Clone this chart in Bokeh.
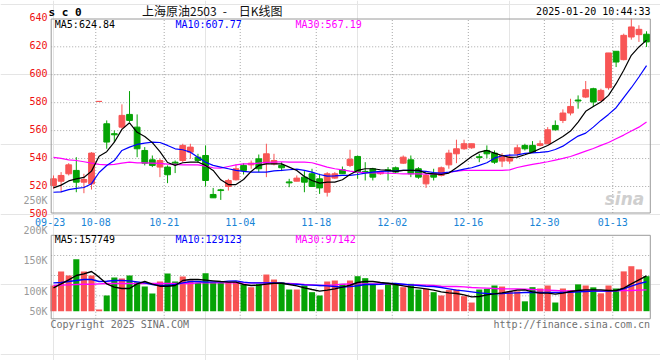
from bokeh.plotting import figure
from bokeh.models import Range1d
from bokeh.core.properties import value
from bokeh.embed import file_html
from bokeh.resources import INLINE

# ---------------- data ----------------
date_labels = ["09-23", "10-08", "10-21", "11-04", "11-18", "12-02", "12-16", "12-30", "01-13"]
date_index = [0, 6, 15, 25, 35, 45, 55, 65, 74]

opens = [520.7, 523.8, 529.1, 531.5, 523.1, 521.9, 580.9, 564.9, 557.8, 562.5,
         571.6, 562.5, 545.8, 539.1, 533.9, 533.9, 537.4, 538.6, 544.6, 541.0,
         542.2, 514.3, 517.6, 520.0, 524.8, 535.1, 535.5, 539.8, 536.7, 536.2,
         535.1, 523.3, 523.8, 526.7, 529.1, 525.5, 515.9, 526.0, 532.0, 535.1,
         541.5, 530.8, 532.7, 529.1, 532.0, 533.4, 536.7, 539.1, 532.7, 521.9,
         529.6, 527.9, 535.5, 543.4, 547.0, 547.7, 541.3, 545.8, 543.9, 538.2,
         538.2, 543.4, 549.4, 549.4, 549.4, 550.6, 563.7, 567.3, 572.6, 581.9,
         584.0, 590.0, 581.6, 590.7, 616.8, 610.8, 627.0, 628.7, 629.0]
highs = [527.9, 530.3, 536.7, 541.0, 529.1, 544.6, 580.9, 567.3, 560.1, 578.8,
         588.3, 571.6, 548.2, 542.2, 540.0, 535.1, 538.6, 550.6, 550.6, 543.4,
         549.4, 519.0, 518.3, 525.5, 535.8, 536.7, 538.6, 542.9, 550.6, 543.4,
         537.4, 525.5, 527.9, 531.0, 532.7, 529.1, 530.3, 530.3, 534.3, 546.3,
         542.2, 537.4, 533.4, 531.0, 533.9, 534.3, 542.2, 542.2, 533.9, 529.1,
         532.7, 534.3, 546.3, 553.5, 553.5, 550.6, 543.4, 549.4, 545.8, 543.9,
         543.4, 549.9, 550.6, 552.5, 553.0, 562.5, 567.3, 575.2, 582.8, 585.2,
         595.5, 590.7, 590.0, 615.6, 616.8, 629.4, 640.2, 635.4, 631.1]
lows = [518.3, 515.9, 527.9, 515.9, 515.2, 517.8, 580.9, 547.0, 551.8, 561.4,
        566.1, 541.0, 535.1, 533.9, 526.7, 522.4, 529.6, 537.4, 539.8, 537.0,
        520.0, 511.9, 510.4, 517.1, 524.3, 528.6, 532.7, 530.3, 526.7, 535.1,
        531.0, 519.5, 523.8, 515.9, 520.0, 514.7, 512.8, 525.5, 529.1, 533.9,
        525.5, 524.3, 524.3, 528.4, 524.3, 529.6, 536.2, 526.7, 525.5, 519.0,
        524.3, 527.2, 532.7, 536.7, 546.3, 547.0, 537.4, 540.3, 536.2, 533.9,
        536.2, 541.0, 545.8, 544.6, 548.7, 550.6, 560.1, 565.4, 570.9, 575.7,
        583.3, 576.9, 580.9, 589.3, 605.5, 610.3, 625.1, 623.5, 619.9]
closes = [525.5, 527.9, 535.5, 523.1, 525.0, 543.9, 580.9, 551.8, 557.0, 570.9,
          567.3, 547.0, 536.7, 535.1, 538.6, 528.4, 536.7, 549.4, 548.2, 538.6,
          524.3, 511.9, 517.1, 524.3, 532.7, 531.5, 536.7, 532.7, 543.4, 538.6,
          533.4, 522.6, 526.0, 523.1, 520.0, 519.0, 529.1, 529.1, 529.1, 539.5,
          530.3, 530.0, 526.7, 530.8, 531.2, 530.3, 541.0, 529.1, 526.7, 527.9,
          526.7, 533.4, 543.9, 547.0, 550.6, 550.6, 540.8, 543.4, 537.4, 542.2,
          541.0, 547.7, 547.0, 544.6, 550.6, 560.6, 560.6, 572.6, 577.3, 581.2,
          589.3, 580.5, 588.8, 615.6, 609.1, 628.2, 634.2, 632.5, 623.5]
# volume in thousand lots
volumes = [108.9, 168.1, 151.2, 220.3, 168.1, 151.2, 7.2, 66.5, 142.7, 138.5,
           151.2, 123.0, 104.6, 74.9, 125.8, 159.6, 125.8, 146.9, 130.0, 120.1,
           161.0, 123.0, 120.1, 123.0, 123.0, 111.7, 101.8, 115.9, 155.4, 134.2,
           123.0, 91.8, 91.8, 108.9, 80.6, 66.5, 125.8, 130.0, 115.9, 130.0,
           148.3, 139.9, 115.9, 91.8, 118.7, 115.9, 101.8, 115.9, 91.8, 94.8,
           80.6, 66.5, 89.3, 91.8, 63.6, 36.7, 91.8, 94.8, 108.9, 104.5,
           84.1, 84.1, 41.8, 101.8, 96.2, 108.9, 36.8, 96.2, 89.8, 113.7,
           108.9, 101.1, 75.7, 108.9, 96.2, 168.7, 190.6, 177.2, 148.3]

ma5 = [519.0, 521.0, 524.0, 525.5, 526.5, 531.0, 541.7, 544.9, 551.7, 560.9,
       565.6, 558.8, 555.8, 551.4, 544.9, 537.2, 535.1, 537.0, 537.5, 537.5,
       535.0, 531.5, 524.8, 521.4, 521.4, 525.0, 530.8, 535.1, 536.2, 536.2,
       536.2, 533.9, 531.5, 527.2, 524.3, 522.4, 523.1, 523.1, 524.8, 528.6,
       531.5, 532.7, 532.7, 532.0, 531.5, 530.8, 531.5, 531.5, 531.5, 529.6,
       529.1, 528.6, 529.6, 533.4, 537.4, 541.5, 544.6, 545.8, 543.9, 542.2,
       540.8, 541.0, 542.7, 544.6, 547.0, 549.4, 552.5, 555.8, 559.7, 566.1,
       573.8, 577.3, 580.5, 585.2, 593.6, 603.2, 613.9, 619.9, 624.8]
ma10 = [515.9, 516.2, 517.8, 518.6, 519.3, 522.0, 530.0, 535.0, 538.6, 545.8,
        548.2, 550.1, 551.1, 551.8, 551.5, 549.4, 547.0, 546.3, 544.6, 541.0,
        537.4, 535.1, 533.9, 532.7, 531.5, 530.8, 530.3, 530.3, 530.3, 531.2,
        531.5, 532.0, 532.4, 531.5, 530.3, 528.6, 527.4, 527.6, 527.9, 527.9,
        528.6, 529.6, 530.3, 530.8, 531.0, 531.2, 531.5, 531.5, 531.2, 530.8,
        530.0, 529.6, 530.3, 531.2, 532.4, 533.4, 535.1, 537.0, 540.3, 542.0,
        542.5, 542.7, 543.7, 544.1, 544.4, 544.9, 546.5, 548.9, 552.5, 556.1,
        558.2, 562.5, 567.3, 571.6, 576.4, 583.6, 590.7, 598.4, 606.5]
ma30 = [540.8, 540.1, 539.1, 538.6, 537.7, 536.7, 535.8, 535.5, 535.8, 536.7,
        537.4, 536.9, 536.9, 536.7, 536.5, 536.0, 535.8, 535.5, 535.5, 535.5,
        534.6, 533.4, 533.1, 534.3, 535.5, 536.2, 536.2, 536.7, 537.2, 537.4,
        537.7, 537.4, 537.4, 537.4, 537.0, 535.5, 533.9, 532.7, 531.9, 531.0,
        530.3, 530.0, 529.8, 529.8, 529.6, 529.3, 529.1, 529.1, 529.1, 528.8,
        529.1, 529.1, 530.0, 531.0, 531.5, 531.5, 531.5, 531.5, 531.5, 531.5,
        531.9, 533.6, 534.8, 535.8, 536.7, 537.7, 538.9, 540.1, 541.5, 543.4,
        545.3, 547.2, 549.4, 551.5, 554.2, 556.8, 559.7, 562.5, 566.1]
vma5 = [99.0, 115.9, 132.9, 151.3, 158.0, 168.2, 144.2, 115.9, 101.8, 96.2,
        96.2, 115.9, 125.8, 114.5, 106.0, 106.0, 108.9, 130.0, 134.3, 134.3,
        131.5, 128.7, 125.8, 123.0, 123.0, 113.1, 108.9, 110.3, 114.5, 118.7,
        118.7, 113.1, 107.5, 99.0, 91.9, 84.9, 89.1, 94.8, 101.8, 110.0,
        121.6, 125.8, 125.8, 121.6, 118.7, 113.1, 107.5, 101.8, 99.0, 94.8,
        89.1, 82.1, 77.8, 75.0, 69.4, 60.9, 62.3, 69.4, 73.6, 77.8,
        83.5, 89.1, 90.5, 82.1, 76.4, 76.4, 72.2, 76.4, 83.5, 87.7,
        90.5, 90.5, 90.5, 87.7, 87.7, 97.6, 115.9, 132.9, 150.0]
vma10 = [120.2, 121.6, 125.8, 130.1, 134.3, 134.3, 125.8, 127.2, 130.1, 130.1,
         128.7, 124.4, 120.2, 113.1, 108.9, 108.9, 113.1, 120.2, 125.8, 125.8,
         123.0, 124.4, 124.4, 127.3, 128.7, 123.0, 120.2, 120.2, 120.2, 120.2,
         118.7, 115.9, 114.5, 111.7, 110.3, 108.9, 107.5, 104.6, 101.8, 104.0,
         108.0, 113.1, 113.1, 114.5, 117.3, 117.3, 114.5, 111.7, 108.9, 106.0,
         104.6, 100.4, 94.8, 89.1, 86.3, 82.1, 77.8, 75.0, 73.6, 75.0,
         76.4, 77.8, 79.2, 80.6, 79.2, 79.2, 79.2, 79.2, 80.6, 82.1,
         83.5, 84.9, 84.9, 84.9, 86.3, 95.0, 106.0, 117.0, 125.0]
vma30 = [108.9, 110.3, 111.7, 113.1, 114.5, 114.5, 115.9, 117.3, 117.3, 117.3,
         117.3, 117.3, 117.3, 117.3, 117.3, 117.3, 117.3, 117.3, 117.3, 120.2,
         120.2, 120.2, 120.2, 120.2, 120.2, 120.2, 120.2, 120.2, 120.2, 120.2,
         118.7, 117.3, 115.9, 113.1, 111.7, 108.9, 110.3, 111.7, 114.5, 115.9,
         115.9, 115.9, 115.9, 115.9, 115.9, 114.5, 113.1, 111.7, 111.7, 110.3,
         108.9, 106.0, 104.6, 104.6, 103.2, 100.4, 99.0, 97.6, 96.2, 94.8,
         94.8, 94.1, 93.4, 92.0, 90.5, 89.1, 87.7, 86.3, 86.3, 86.3,
         86.3, 86.3, 86.3, 86.3, 86.3, 87.7, 87.7, 89.1, 90.5]

price_ticks = [640, 620, 600, 580, 560, 540, 520, 500]
price_grid = [620, 600, 580, 560, 540, 520]
vol_tick_labels = ["250K", "200K", "150K", "100K", "50K"]

# ---------------- layout (page pixel geometry) ----------------
W, H, OFF = 660, 360, 0
X0, DX = 53.0, 7.603          # page x of first candle centre, px per session
def fx(px):
    return (px - X0) / DX
def fy(py):
    return 520 + (186.0 - py) / 1.397
def fv(py):
    return (310.7 - py) / 0.236

RED, GREEN = "#f85555", "#05a305"
GRID = "#a8a8a8"
BORDER = "#9a9a9a"
MONO = value("DejaVu Sans Mono")

p = figure(width=W, height=H, output_backend="svg", toolbar_location=None,
           x_range=Range1d(fx(OFF), fx(OFF + W)),
           y_range=Range1d(fy(OFF + H), fy(OFF)),
           x_axis_location=None, y_axis_location=None,
           min_border=0, title=None)
p.extra_y_ranges = {"vol": Range1d(fv(OFF + H), fv(OFF))}
p.outline_line_color = None
p.background_fill_color = "white"

idx = list(range(len(closes)))
colors = [RED if c >= o else GREEN for o, c in zip(opens, closes)]
body_top = [max(o, c) for o, c in zip(opens, closes)]
body_bot = [min(o, c) for o, c in zip(opens, closes)]

L, R = fx(50.7), fx(649.8)
P_TOP, P_BOT = fy(18.5), fy(212.5)
V_TOP, V_BOT = fv(234.8), fv(318.3)
grid_x = [i - 0.44 for i in date_index[1:]]

# price panel grid
p.segment(x0=[L] * len(price_grid), y0=price_grid, x1=[R] * len(price_grid), y1=price_grid,
          line_color=GRID, line_dash="1 2", line_width=1)
p.segment(x0=grid_x, y0=[P_BOT] * len(grid_x), x1=grid_x, y1=[P_TOP] * len(grid_x),
          line_color=GRID, line_dash="1 2", line_width=1)
# volume panel grid
vgrid = [fv(255.0), fv(275.0), fv(295.3)]
p.segment(x0=[L] * 3, y0=vgrid, x1=[R] * 3, y1=vgrid, line_color=GRID, line_dash="1 2",
          line_width=1, y_range_name="vol")
p.segment(x0=grid_x, y0=[V_BOT] * len(grid_x), x1=grid_x, y1=[V_TOP] * len(grid_x),
          line_color=GRID, line_dash="1 2", line_width=1, y_range_name="vol")

# candles
p.segment(x0=idx, y0=lows, x1=idx, y1=highs, line_color=colors, line_width=1)
p.vbar(x=idx, width=0.76, top=body_top, bottom=body_bot, fill_color=colors, line_color=colors,
       line_width=1)
# price MAs
p.line(idx, ma30, line_color="#ff00ff", line_width=1.2)
p.line(idx, ma10, line_color="#0000ff", line_width=1.2)
p.line(idx, ma5, line_color="#000000", line_width=1.2)

# volume bars + MAs
p.vbar(x=idx, width=0.8, top=volumes, bottom=0, fill_color=colors, line_color=None,
       y_range_name="vol")
p.line(idx, vma30, line_color="#ff00ff", line_width=1.4, y_range_name="vol")
p.line(idx, vma10, line_color="#0000ff", line_width=1.4, y_range_name="vol")
p.line(idx, vma5, line_color="#000000", line_width=1.4, y_range_name="vol")

# panel borders
for top, bot in ((P_TOP, P_BOT), (fy(234.8), fy(318.3))):
    p.segment(x0=[L, L, R, L], y0=[bot, top, bot, bot], x1=[L, R, R, R], y1=[top, top, top, bot],
              line_color=BORDER, line_width=1)


def txt(px, py, s, color, size="10px", align="left", font=MONO, style="normal"):
    p.text(x=[fx(px)], y=[fy(py)], text=[s], text_color=color, text_font=font,
           text_font_size=size, text_align=align, text_baseline="middle",
           text_font_style=style)


# price tick labels (red) on the price scale
p.text(x=[fx(47)] * len(price_ticks), y=[t + 1.1 for t in price_ticks],
       text=[str(t) for t in price_ticks], text_color="#ee1111", text_font=MONO,
       text_font_size="10px", text_align="right", text_baseline="middle")
# date labels
p.text(x=[i - 0.44 for i in date_index], y=[fy(221.5)] * len(date_index), text=date_labels,
       text_color="#1784d6", text_font=MONO, text_font_size="10px", text_align="center",
       text_baseline="middle")
# volume tick labels
vol_label_py = [199.7, 230.0, 260.0, 291.0, 311.0]
p.text(x=[fx(47)] * len(vol_tick_labels), y=[fy(v) for v in vol_label_py], text=vol_tick_labels,
       text_color="#9a9a9a", text_font=MONO, text_font_size="10px", text_align="right",
       text_baseline="middle")

# headers
txt(48, 12.3, "s c 0", "#000000", size="11px", style="bold")
txt(141.5, 9.8, "上海原油2503\u2002-\u2003日K线图", "#111111", size="12px",
    font=value("Noto Sans CJK SC"))
txt(650, 11.3, "2025-01-20 10:44:33", "#000000", align="right")
txt(54.3, 24.0, "MA5:624.84", "#000000")
txt(175.0, 24.0, "MA10:607.77", "#0000ff")
txt(295.0, 24.0, "MA30:567.19", "#ff00ff")
txt(54.3, 238.8, "MA5:157749", "#000000")
txt(175.0, 238.8, "MA10:129123", "#0000ff")
txt(295.0, 238.8, "MA30:97142", "#ff00ff")
txt(50.0, 323.5, "Copyright 2025 SINA.COM", "#707070")
txt(649.5, 323.5, "http://finance.sina.com.cn", "#707070", align="right")
txt(624.0, 198.0, "sina", "#cfcfcf", size="17px", align="center",
    font=value("DejaVu Sans"), style="bold italic")

open("out.html", "w").write(file_html(p, INLINE))
